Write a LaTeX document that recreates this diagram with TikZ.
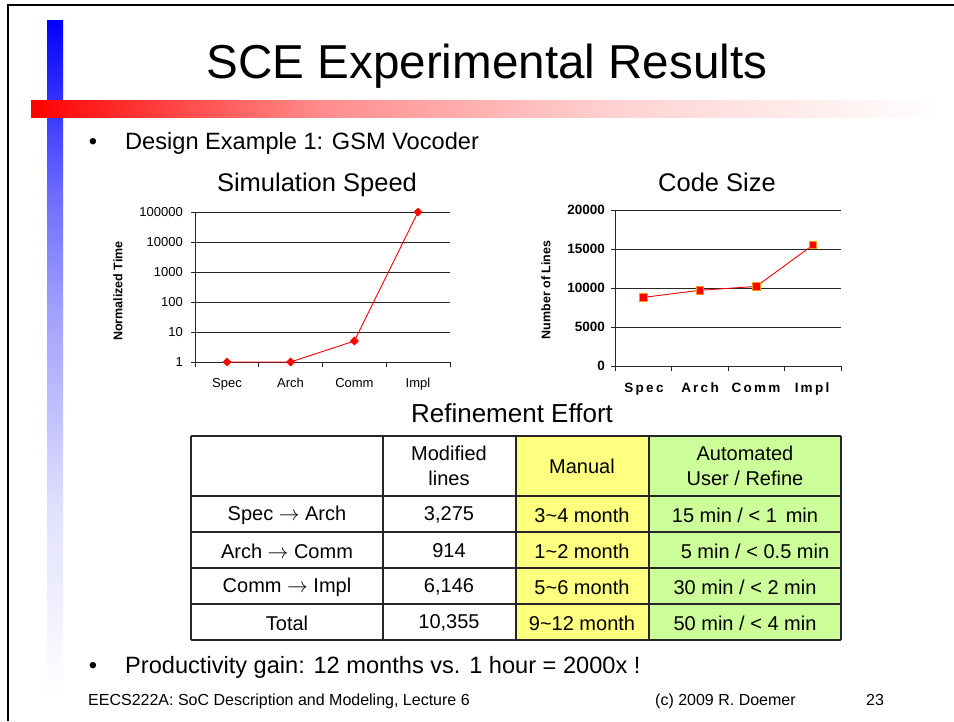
\documentclass[tikz,border=0pt]{standalone}
\usepackage{fontspec}
\usepackage{graphicx}
\setmainfont{Liberation Sans}
\usetikzlibrary{shapes.geometric}

% colour fades for the two title bars
\pgfdeclarehorizontalshading{redfade}{100bp}{color(0bp)=(red); color(25bp)=(red); color(41bp)=(red!45); color(57bp)=(red!18); color(75bp)=(white); color(100bp)=(white)}
\pgfdeclareverticalshading{bluefade}{100bp}{color(0bp)=(white); color(25bp)=(white); color(39bp)=(blue!12); color(54bp)=(blue!38); color(62bp)=(blue!57); color(75bp)=(blue); color(100bp)=(blue)}

\definecolor{cellyellow}{RGB}{255,255,128}
\definecolor{cellgreen}{RGB}{204,255,153}
\definecolor{mkorange}{RGB}{255,153,0}

\tikzset{
  txt/.style={inner sep=0pt, font=\fontsize{23.6}{28}\selectfont},
  head/.style={inner sep=0pt, font=\fontsize{25.5}{30}\selectfont},
  ticklab/.style={inner sep=0pt, font=\fontsize{13}{15}\selectfont},
  bticklab/.style={inner sep=0pt, font=\fontsize{13.5}{15}\selectfont\bfseries},
  axlab/.style={inner sep=0pt, rotate=90, font=\fontsize{12.5}{14}\selectfont\bfseries},
  grid/.style={line width=0.9pt, black!85},
  diam/.style={diamond, fill=red, inner sep=0pt, minimum size=9pt},
  sq/.style={rectangle, fill=red, draw=mkorange, line width=0.8pt, inner sep=0pt, minimum size=7.5pt},
  series/.style={red, line width=0.9pt},
  cell/.style={inner sep=0pt, align=center, font=\fontsize{20}{24.5}\selectfont},
  tline/.style={line width=1.2pt, black!85},
  foot/.style={inner sep=0pt, anchor=base west, font=\fontsize{16}{19}\selectfont}
}

\begin{document}
\begin{tikzpicture}[x=1pt,y=-1pt]
\useasboundingbox (0,0) rectangle (954,721);
\fill[white] (0,0) rectangle (954,721);

% slide frame
\draw[line width=2.2pt] (8,721) -- (8,5) -- (954,5);

% decorative bars
\shade[shading=bluefade] (47,20) rectangle (63,700);
\shade[shading=redfade] (31,100) rectangle (940,117);

% title and bullets
\node[inner sep=0pt, anchor=base, font=\fontsize{47.6}{56}\selectfont] (title) at (487,78) {SCE Experimental Results};
\node[txt, anchor=base] (b1) at (93,149) {•};
\node[txt, anchor=base west] (design) at (125,149) {Design Example 1: GSM Vocoder};

% ---------- chart 1: simulation speed (log scale) ----------
\node[head, anchor=base] (simtitle) at (317,191) {Simulation Speed};
\foreach \k/\lab in {0/100000,1/10000,2/1000,3/100,4/10,5/1}{
  \draw[grid] (191,212+30*\k) -- (450,212+30*\k);
  \node[ticklab, anchor=east] (ya\k) at (183,212+30*\k) {\lab};
}
\draw[grid] (195,212) -- (195,367);
\foreach \i in {0,...,4}{ \draw[grid] (195+63.75*\i,362) -- (195+63.75*\i,367); }
\node[axlab] (ylabA) at (118,291) {Normalized Time};
\node[ticklab, anchor=base] (xa1) at (227,387) {Spec};
\node[ticklab, anchor=base] (xa2) at (290.6,387) {Arch};
\node[ticklab, anchor=base] (xa3) at (354.4,387) {Comm};
\node[ticklab, anchor=base] (xa4) at (418,387) {Impl};
\coordinate (pa1) at (227,362);
\coordinate (pa2) at (290.6,362);
\coordinate (pa3) at (354.4,341);
\coordinate (pa4) at (418,212);
\draw[series] (pa1) -- (pa2) -- (pa3) -- (pa4);
\foreach \i in {1,...,4}{ \node[diam] (da\i) at (pa\i) {}; }

% ---------- chart 2: code size ----------
\node[head, anchor=base] (codetitle) at (717,191) {Code Size};
\foreach \k/\lab in {0/20000,1/15000,2/10000,3/5000,4/0}{
  \draw[grid] (611,210+39*\k) -- (841,210+39*\k);
  \node[bticklab, anchor=east] (yb\k) at (605,210+39*\k) {\lab};
}
\draw[grid] (615,210) -- (615,371);
\foreach \i in {0,...,4}{ \draw[grid] (615+56.5*\i,366) -- (615+56.5*\i,371); }
\node[axlab] (ylabB) at (546,290) {Number of Lines};
\node[bticklab, anchor=base] (xb1) at (644,392) {S\,p\,e\,c};
\node[bticklab, anchor=base] (xb2) at (700,392) {A\,r\,c\,h};
\node[bticklab, anchor=base] (xb3) at (756,392) {C\,o\,m\,m};
\node[bticklab, anchor=base] (xb4) at (812,392) {I\,m\,p\,l};
\coordinate (pb1) at (643.3,297.4);
\coordinate (pb2) at (699.8,290.3);
\coordinate (pb3) at (756.3,286.4);
\coordinate (pb4) at (812.8,245.1);
\draw[series] (pb1) -- (pb2) -- (pb3) -- (pb4);
\foreach \i in {1,...,4}{ \node[sq] (sb\i) at (pb\i) {}; }

% ---------- refinement effort table ----------
\node[head, anchor=base, font=\fontsize{26}{30}\selectfont] (reftitle) at (512,422) {Refinement Effort};
\fill[cellyellow] (516,436) rectangle (649,640);
\fill[cellgreen] (649,436) rectangle (841,640);
\foreach \y in {436,496,532,568,604,640}{ \draw[tline] (191,\y) -- (841,\y); }
\foreach \x in {191,383,516,649,841}{ \draw[tline] (\x,436) -- (\x,640); }

\node[cell] (h2) at (449,466) {Modified\\lines};
\node[cell] (h3) at (582,466) {Manual};
\node[cell] (h4) at (745,466) {Automated\\User / Refine};

\node[cell] (r1c1) at (287,515) {Spec $\rightarrow$ Arch};
\node[cell] (r1c2) at (449,515) {3,275};
\node[cell] (r1c3) at (582,515) {3\textasciitilde 4 month};
\node[cell] (r1c4) at (745,515) {15 min / < 1 \,min};

\node[cell] (r2c1) at (287,551) {Arch $\rightarrow$ Comm};
\node[cell] (r2c2) at (449,551) {914};
\node[cell] (r2c3) at (582,551) {1\textasciitilde 2 month};
\node[cell] (r2c4) at (755,551) {5 min / < 0.5 min};

\node[cell] (r3c1) at (287,587) {Comm $\rightarrow$ Impl};
\node[cell] (r3c2) at (449,587) {6,146};
\node[cell] (r3c3) at (582,587) {5\textasciitilde 6 month};
\node[cell] (r3c4) at (745,587) {30 min / < 2 min};

\node[cell] (r4c1) at (287,623) {Total};
\node[cell] (r4c2) at (449,623) {10,355};
\node[cell] (r4c3) at (582,623) {9\textasciitilde 12 month};
\node[cell] (r4c4) at (745,623) {50 min / < 4 min};

% closing bullet and footer
\node[txt, anchor=base] (b2) at (93,673) {•};
\node[txt, anchor=base west] (gain) at (125,673) {Productivity gain: 12 months vs. 1 hour = 2000x !};
\node[foot] (foot1) at (88,705) {EECS222A: SoC Description and Modeling, Lecture 6};
\node[foot] (foot2) at (655,705) {(c) 2009 R. Doemer};
\node[foot] (foot3) at (866,705) {23};
\end{tikzpicture}
\end{document}
